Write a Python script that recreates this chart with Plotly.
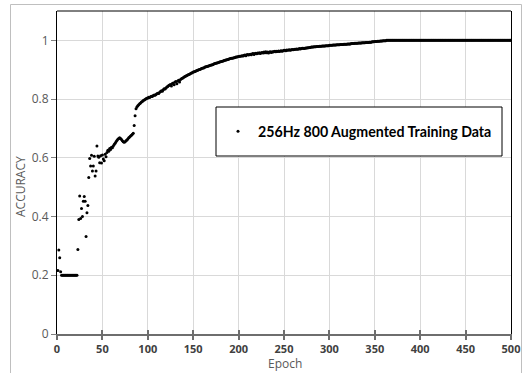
import plotly.graph_objects as go

# ---- data ----
series_name = "256Hz 800 Augmented Training Data"

accuracy = [
    0.216, 0.286, 0.260, 0.212, 0.200, 0.200, 0.200, 0.200, 0.200, 0.200,
    0.200, 0.200, 0.200, 0.200, 0.200, 0.200, 0.200, 0.200, 0.200, 0.200,
    0.200, 0.200, 0.288, 0.390, 0.470, 0.393, 0.427, 0.400, 0.452, 0.468,
    0.452, 0.332, 0.413, 0.438, 0.533, 0.598, 0.572, 0.609, 0.555, 0.572,
    0.605, 0.538, 0.555, 0.640, 0.606, 0.602, 0.583, 0.607, 0.582, 0.610,
    0.596, 0.590, 0.612, 0.604, 0.618, 0.626, 0.622, 0.632, 0.628, 0.636,
    0.634, 0.640, 0.645, 0.650, 0.655, 0.659, 0.663, 0.666, 0.668, 0.666,
    0.662, 0.658, 0.655, 0.653, 0.655, 0.658, 0.661, 0.664, 0.668, 0.671,
    0.674, 0.677, 0.680, 0.684, 0.710, 0.743, 0.767, 0.773, 0.777, 0.781,
    0.784, 0.787, 0.790, 0.792, 0.795, 0.797, 0.799, 0.801, 0.803, 0.804,
    0.806, 0.805, 0.808, 0.810, 0.809, 0.812, 0.814, 0.813, 0.816, 0.818,
    0.820, 0.819, 0.823, 0.826, 0.828, 0.827, 0.832, 0.835, 0.834, 0.838,
    0.841, 0.843, 0.846, 0.848, 0.850, 0.845, 0.853, 0.855, 0.849, 0.858,
    0.860, 0.852, 0.862, 0.864, 0.858, 0.867, 0.869, 0.871, 0.873, 0.875,
    0.877, 0.879, 0.880, 0.882, 0.884, 0.885, 0.887, 0.889, 0.890, 0.892,
    0.893, 0.894, 0.896, 0.897, 0.898, 0.900, 0.901, 0.902, 0.904, 0.905,
    0.906, 0.907, 0.909, 0.910, 0.911, 0.912, 0.913, 0.914, 0.915, 0.916,
    0.917, 0.918, 0.920, 0.921, 0.922, 0.923, 0.924, 0.925, 0.926, 0.927,
    0.928, 0.929, 0.930, 0.931, 0.932, 0.933, 0.934, 0.935, 0.936, 0.937,
    0.938, 0.939, 0.939, 0.940, 0.941, 0.942, 0.943, 0.943, 0.944, 0.945,
    0.946, 0.946, 0.947, 0.948, 0.947, 0.949, 0.950, 0.948, 0.951, 0.952,
    0.950, 0.952, 0.953, 0.951, 0.954, 0.955, 0.952, 0.955, 0.956, 0.954,
    0.957, 0.956, 0.958, 0.955, 0.958, 0.959, 0.957, 0.960, 0.958, 0.961,
    0.958, 0.960, 0.957, 0.960, 0.961, 0.959, 0.961, 0.960, 0.962, 0.963,
    0.961, 0.963, 0.962, 0.964, 0.962, 0.964, 0.965, 0.963, 0.965, 0.966,
    0.966, 0.965, 0.967, 0.966, 0.967, 0.968, 0.966, 0.968, 0.969, 0.968,
    0.969, 0.970, 0.970, 0.971, 0.970, 0.971, 0.972, 0.971, 0.972, 0.973,
    0.973, 0.972, 0.973, 0.974, 0.974, 0.975, 0.975, 0.976, 0.976, 0.977,
    0.977, 0.977, 0.978, 0.978, 0.978, 0.979, 0.979, 0.979, 0.980, 0.980,
    0.980, 0.981, 0.981, 0.981, 0.981, 0.982, 0.982, 0.982, 0.982, 0.983,
    0.983, 0.983, 0.983, 0.984, 0.984, 0.984, 0.984, 0.985, 0.985, 0.985,
    0.985, 0.986, 0.986, 0.986, 0.986, 0.987, 0.987, 0.987, 0.987, 0.988,
    0.988, 0.988, 0.988, 0.989, 0.989, 0.989, 0.989, 0.990, 0.990, 0.990,
    0.990, 0.991, 0.991, 0.991, 0.991, 0.992, 0.992, 0.992, 0.992, 0.993,
    0.993, 0.993, 0.993, 0.994, 0.994, 0.994, 0.995, 0.995, 0.995, 0.996,
    0.996, 0.996, 0.997, 0.997, 0.997, 0.998, 0.998, 0.998, 0.999, 0.999,
    0.999, 0.999, 1.000, 1.000, 1.000, 1.000, 1.000, 1.000, 1.000, 1.000,
    1.000, 1.000, 1.000, 1.000, 1.000, 1.000, 1.000, 1.000, 1.000, 1.000,
    1.000, 1.000, 1.000, 1.000, 1.000, 1.000, 1.000, 1.000, 1.000, 1.000,
    1.000, 1.000, 1.000, 1.000, 1.000, 1.000, 1.000, 1.000, 1.000, 1.000,
    1.000, 1.000, 1.000, 1.000, 1.000, 1.000, 1.000, 1.000, 1.000, 1.000,
    1.000, 1.000, 1.000, 1.000, 1.000, 1.000, 1.000, 1.000, 1.000, 1.000,
    1.000, 1.000, 1.000, 1.000, 1.000, 1.000, 1.000, 1.000, 1.000, 1.000,
    1.000, 1.000, 1.000, 1.000, 1.000, 1.000, 1.000, 1.000, 1.000, 1.000,
    1.000, 1.000, 1.000, 1.000, 1.000, 1.000, 1.000, 1.000, 1.000, 1.000,
    1.000, 1.000, 1.000, 1.000, 1.000, 1.000, 1.000, 1.000, 1.000, 1.000,
    1.000, 1.000, 1.000, 1.000, 1.000, 1.000, 1.000, 1.000, 1.000, 1.000,
    1.000, 1.000, 1.000, 1.000, 1.000, 1.000, 1.000, 1.000, 1.000, 1.000,
    1.000, 1.000, 1.000, 1.000, 1.000, 1.000, 1.000, 1.000, 1.000, 1.000,
    1.000, 1.000, 1.000, 1.000, 1.000, 1.000, 1.000, 1.000, 1.000, 1.000,
]
epochs = list(range(1, len(accuracy) + 1))

x_ticks = [0, 50, 100, 150, 200, 250, 300, 350, 400, 450, 500]
y_ticks = [0, 0.2, 0.4, 0.6, 0.8, 1]
y_tick_labels = ["0", "0.2", "0.4", "0.6", "0.8", "1"]

# ---- layout geometry (pixels) ----
W, H = 532, 373
L, R, T, B = 57, 511, 11, 334

def px_x(p):
    return (p - L) / (R - L)

def px_y(p):
    return (B - p) / (B - T)

fig = go.Figure()
fig.add_trace(go.Scatter(
    x=epochs, y=accuracy, mode="markers", name=series_name,
    marker=dict(color="black", size=3, symbol="circle"),
    showlegend=True,
))

grid = "#d9d9d9"
fig.update_layout(
    width=W, height=H,
    margin=dict(l=L, r=W - R, t=T, b=H - B),
    paper_bgcolor="white", plot_bgcolor="white",
    font=dict(family="Open Sans", color="#595959"),
    xaxis=dict(
        range=[0, 500], tickvals=x_ticks, showgrid=True, gridcolor=grid, gridwidth=1,
        zeroline=False, showline=True, linecolor="#6e6e6e", linewidth=2,
        ticks="outside", ticklen=4, tickcolor="#6e6e6e", tickwidth=1.5,
        tickfont=dict(family="Open Sans", size=11, color="#404040", weight="bold"),
    ),
    xaxis2=dict(
        range=[0, 500], tickvals=x_ticks, overlaying="x", matches="x", side="bottom",
        showgrid=False, zeroline=False, showline=False, showticklabels=False,
        ticks="inside", ticklen=4, tickcolor="#6e6e6e", tickwidth=1.5,
    ),
    yaxis=dict(
        range=[0, 1.1], tickvals=y_ticks, ticktext=y_tick_labels,
        showgrid=True, gridcolor=grid, gridwidth=1, zeroline=False,
        showline=True, linecolor="black", linewidth=1, mirror=True,
        ticks="outside", ticklen=5, tickcolor="#808080",
        tickfont=dict(family="Open Sans", size=12, color="#595959"),
    ),
    showlegend=True,
    legend=dict(
        x=px_x(218), y=px_y(131.5), xanchor="left", yanchor="middle",
        bgcolor="rgba(0,0,0,0)", borderwidth=0,
        font=dict(family="Lato", size=14.2, color="black", weight="bold"),
        itemwidth=30,
    ),
)
# invisible trace for the inside tick overlay axis
fig.add_trace(go.Scatter(x=[None], y=[None], xaxis="x2", showlegend=False, hoverinfo="skip"))

# top border of the plot area
fig.add_shape(type="line", xref="paper", yref="paper", x0=0, x1=1, y0=1, y1=1,
              line=dict(color="black", width=1))
# legend box
fig.add_shape(type="rect", xref="paper", yref="paper",
              x0=px_x(216), x1=px_x(502), y0=px_y(156), y1=px_y(107),
              fillcolor="white", line=dict(color="black", width=1), layer="above")
# outer chart border
fig.add_shape(type="rect", xref="paper", yref="paper",
              x0=px_x(10.5), x1=px_x(521.5), y0=px_y(385), y1=px_y(4.5),
              fillcolor="rgba(0,0,0,0)", line=dict(color="#bfbfbf", width=1))

fig.add_annotation(text="ACCURACY", xref="paper", yref="paper",
                   x=px_x(20), y=px_y(187), showarrow=False, textangle=-90,
                   xanchor="center", yanchor="middle",
                   font=dict(family="Open Sans", size=12, color="#595959"))
fig.add_annotation(text="Epoch", xref="paper", yref="paper",
                   x=px_x(285), y=px_y(363), showarrow=False,
                   xanchor="center", yanchor="middle",
                   font=dict(family="Open Sans", size=12, color="#595959"))

fig.write_html("out.html", config={"displayModeBar": False},
               post_script="document.body.style.margin='0px';")
